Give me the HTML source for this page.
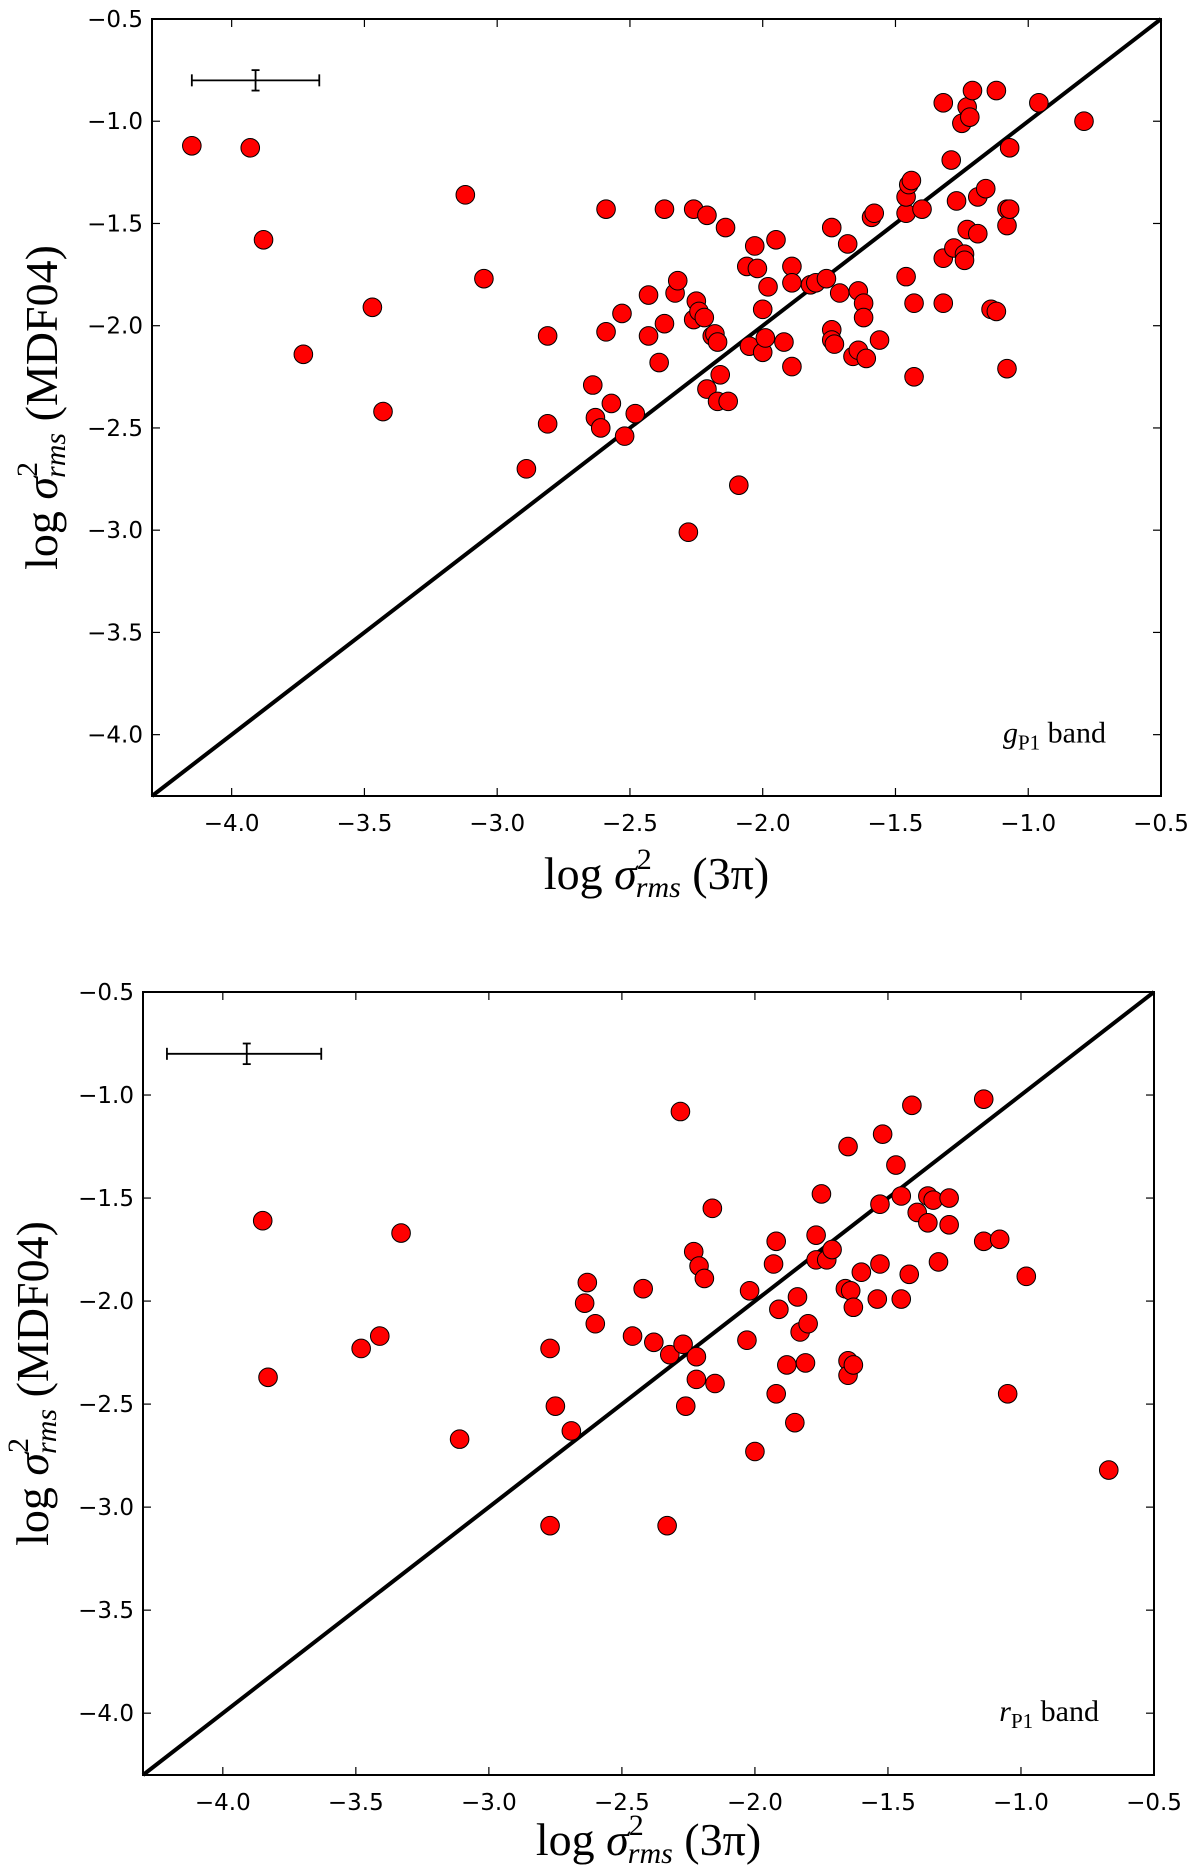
<!DOCTYPE html>
<html><head><meta charset="utf-8"><style>
html,body{margin:0;padding:0;background:#fff;}
svg{display:block;}
.tl{font-family:"DejaVu Sans","Liberation Sans",sans-serif;font-size:23px;fill:#000;}
.ti{font-family:"Liberation Serif",serif;font-size:46px;fill:#000;}
.bd{font-family:"Liberation Serif",serif;font-size:30px;fill:#000;}
</style></head><body>
<svg id="fig" width="1200" height="1872" viewBox="0 0 1200 1872" xmlns="http://www.w3.org/2000/svg"></svg>
<script>
const gX = [-4.15,-3.93,-3.88,-3.73,-3.47,-3.43,-3.12,-3.05,-2.89,-2.81,-2.81,-2.64,-2.63,-2.61,-2.59,-2.59,-2.57,-2.53,-2.52,-2.48,-2.43,-2.43,-2.39,-2.37,-2.37,-2.33,-2.32,-2.26,-2.26,-2.25,-2.24,-2.22,-2.21,-2.21,-2.19,-2.18,-2.17,-2.17,-2.16,-2.14,-2.13,-2.28,-2.09,-2.06,-2.05,-2.03,-2.02,-2.00,-2.00,-1.99,-1.98,-1.95,-1.92,-1.89,-1.89,-1.89,-1.82,-1.80,-1.76,-1.74,-1.74,-1.74,-1.73,-1.71,-1.68,-1.66,-1.64,-1.64,-1.62,-1.62,-1.61,-1.59,-1.58,-1.56,-1.46,-1.46,-1.46,-1.45,-1.44,-1.43,-1.43,-1.40,-1.32,-1.32,-1.32,-1.29,-1.28,-1.27,-1.25,-1.24,-1.24,-1.23,-1.23,-1.22,-1.21,-1.19,-1.19,-1.16,-1.14,-1.12,-1.12,-1.08,-1.08,-1.08,-1.07,-1.07,-0.96,-0.79];
const gY = [-1.12,-1.13,-1.58,-2.14,-1.91,-2.42,-1.36,-1.77,-2.70,-2.05,-2.48,-2.29,-2.45,-2.50,-2.03,-1.43,-2.38,-1.94,-2.54,-2.43,-1.85,-2.05,-2.18,-1.99,-1.43,-1.84,-1.78,-1.43,-1.97,-1.88,-1.93,-1.96,-1.46,-2.31,-2.05,-2.04,-2.37,-2.08,-2.24,-1.52,-2.37,-3.01,-2.78,-1.71,-2.10,-1.61,-1.72,-1.92,-2.13,-2.06,-1.81,-1.58,-2.08,-1.71,-1.79,-2.20,-1.80,-1.79,-1.77,-1.52,-2.02,-2.07,-2.09,-1.84,-1.60,-2.15,-1.83,-2.12,-1.89,-1.96,-2.16,-1.47,-1.45,-2.07,-1.76,-1.45,-1.37,-1.31,-1.29,-1.89,-2.25,-1.43,-0.91,-1.67,-1.89,-1.19,-1.62,-1.39,-1.01,-1.65,-1.68,-0.93,-1.53,-0.98,-0.85,-1.55,-1.37,-1.33,-1.92,-0.85,-1.93,-1.43,-1.51,-2.21,-1.43,-1.13,-0.91,-1.00];
const rX = [-3.85,-3.83,-3.48,-3.41,-3.33,-3.11,-2.77,-2.77,-2.75,-2.69,-2.63,-2.64,-2.60,-2.46,-2.42,-2.38,-2.33,-2.32,-2.28,-2.27,-2.26,-2.23,-2.22,-2.22,-2.21,-2.19,-2.16,-2.15,-2.03,-2.02,-2.00,-1.93,-1.92,-1.92,-1.91,-1.88,-1.85,-1.84,-1.83,-1.81,-1.80,-1.77,-1.77,-1.75,-1.73,-1.71,-1.66,-1.65,-1.65,-1.65,-1.64,-1.63,-1.63,-1.60,-1.54,-1.53,-1.53,-1.52,-1.47,-1.45,-1.45,-1.42,-1.41,-1.39,-1.35,-1.35,-1.33,-1.31,-1.27,-1.27,-1.14,-1.14,-1.08,-1.05,-0.98,-0.67];
const rY = [-1.61,-2.37,-2.23,-2.17,-1.67,-2.67,-2.23,-3.09,-2.51,-2.63,-1.91,-2.01,-2.11,-2.17,-1.94,-2.20,-3.09,-2.26,-1.08,-2.21,-2.51,-1.76,-2.27,-2.38,-1.83,-1.89,-1.55,-2.40,-2.19,-1.95,-2.73,-1.82,-1.71,-2.45,-2.04,-2.31,-2.59,-1.98,-2.15,-2.30,-2.11,-1.68,-1.80,-1.48,-1.80,-1.75,-1.94,-1.25,-2.29,-2.36,-1.95,-2.31,-2.03,-1.86,-1.99,-1.53,-1.82,-1.19,-1.34,-1.49,-1.99,-1.87,-1.05,-1.57,-1.49,-1.62,-1.51,-1.81,-1.50,-1.63,-1.02,-1.71,-1.70,-2.45,-1.88,-2.82];
const ticks = [-4.0,-3.5,-3.0,-2.5,-2.0,-1.5,-1.0,-0.5];
const tickLabels = ["\u22124.0","\u22123.5","\u22123.0","\u22122.5","\u22122.0","\u22121.5","\u22121.0","\u22120.5"];
const NS="http://www.w3.org/2000/svg";
const svg=document.getElementById('fig');
function mk(tag,attrs,parent){const e=document.createElementNS(NS,tag);for(const k in attrs)e.setAttribute(k,attrs[k]);(parent||svg).appendChild(e);return e;}
function panel(o){
  const g=mk('g',{});
  
  
  const sx=v=>o.L+(v+4.3)/3.8*(o.R-o.L);
  const sy=v=>o.B-(v+4.3)/3.8*(o.B-o.T);
  const ln=mk('line',{x1:sx(-4.3),y1:sy(-4.3),x2:sx(-0.5),y2:sy(-0.5),stroke:'#000','stroke-width':4},g);
  
  
  for(let i=0;i<o.xs.length;i++){
    const c=mk('circle',{cx:sx(o.xs[i]),cy:sy(o.ys[i]),r:9.3,fill:'#f00',stroke:'#000','stroke-width':1},g);
    
    
  }
  const eb=mk('g',{stroke:'#000','stroke-width':1.8},g);
  
  
  mk('line',{x1:sx(o.eb[0]),y1:sy(-0.8),x2:sx(o.eb[1]),y2:sy(-0.8)},eb);
  mk('line',{x1:sx(o.eb[0]),y1:sy(-0.8)-6,x2:sx(o.eb[0]),y2:sy(-0.8)+6},eb);
  mk('line',{x1:sx(o.eb[1]),y1:sy(-0.8)-6,x2:sx(o.eb[1]),y2:sy(-0.8)+6},eb);
  mk('line',{x1:sx(-3.91),y1:sy(-0.75),x2:sx(-3.91),y2:sy(-0.85)},eb);
  mk('line',{x1:sx(-3.91)-4,y1:sy(-0.75),x2:sx(-3.91)+4,y2:sy(-0.75)},eb);
  mk('line',{x1:sx(-3.91)-4,y1:sy(-0.85),x2:sx(-3.91)+4,y2:sy(-0.85)},eb);
  const fr=mk('rect',{x:o.L,y:o.T,width:o.R-o.L,height:o.B-o.T,fill:'none',stroke:'#000','stroke-width':2},g);
  
  
  for(let i=0;i<ticks.length;i++){
    const x=sx(ticks[i]),y=sy(ticks[i]);
    mk('line',{x1:x,y1:o.B,x2:x,y2:o.B-8,stroke:'#000','stroke-width':1.2},g);
    mk('line',{x1:x,y1:o.T,x2:x,y2:o.T+8,stroke:'#000','stroke-width':1.2},g);
    mk('line',{x1:o.L,y1:y,x2:o.L+8,y2:y,stroke:'#000','stroke-width':1.2},g);
    mk('line',{x1:o.R,y1:y,x2:o.R-8,y2:y,stroke:'#000','stroke-width':1.2},g);
    const xt=mk('text',{x:x,y:o.B+35,'text-anchor':'middle',class:'tl'},g);xt.textContent=tickLabels[i];
    
    
    const yt=mk('text',{x:o.L-9,y:y+8,'text-anchor':'end',class:'tl'},g);yt.textContent=tickLabels[i];
    
    
  }
  const xtl=mk('text',{x:(o.L+o.R)/2,y:o.B+o.xt,'text-anchor':'middle',class:'ti'},g);
  xtl.innerHTML='log <tspan font-style="italic">σ</tspan><tspan dy="-20" font-size="30">2</tspan><tspan dy="28" dx="-16" font-size="30" font-style="italic">rms</tspan><tspan dy="-8"> (3π)</tspan>';
  
  
  const ytl=mk('text',{x:0,y:0,'text-anchor':'middle',class:'ti',transform:`translate(${o.L-95},${(o.T+o.B)/2}) rotate(-90)`},g);
  ytl.innerHTML='log <tspan font-style="italic">σ</tspan><tspan dy="-20" font-size="30">2</tspan><tspan dy="28" dx="-16" font-size="30" font-style="italic">rms</tspan><tspan dy="-8"> (MDF04)</tspan>';
  
  
  const bl=mk('text',{x:o.R-55,y:sy(-4.0)+8,'text-anchor':'end',class:'bd'},g);
  bl.innerHTML='<tspan font-style="italic">'+o.band+'</tspan><tspan font-size="21" dy="7">P1</tspan><tspan dy="-7"> band</tspan>';
  
  
}
panel({name:'g-band-panel',L:152,R:1161,T:19,B:796,xs:gX,ys:gY,eb:[-4.15,-3.67],band:'g',xt:93});
panel({name:'r-band-panel',L:143,R:1154,T:992,B:1775,xs:rX,ys:rY,eb:[-4.21,-3.63],band:'r',xt:80});
</script>
</body></html>
